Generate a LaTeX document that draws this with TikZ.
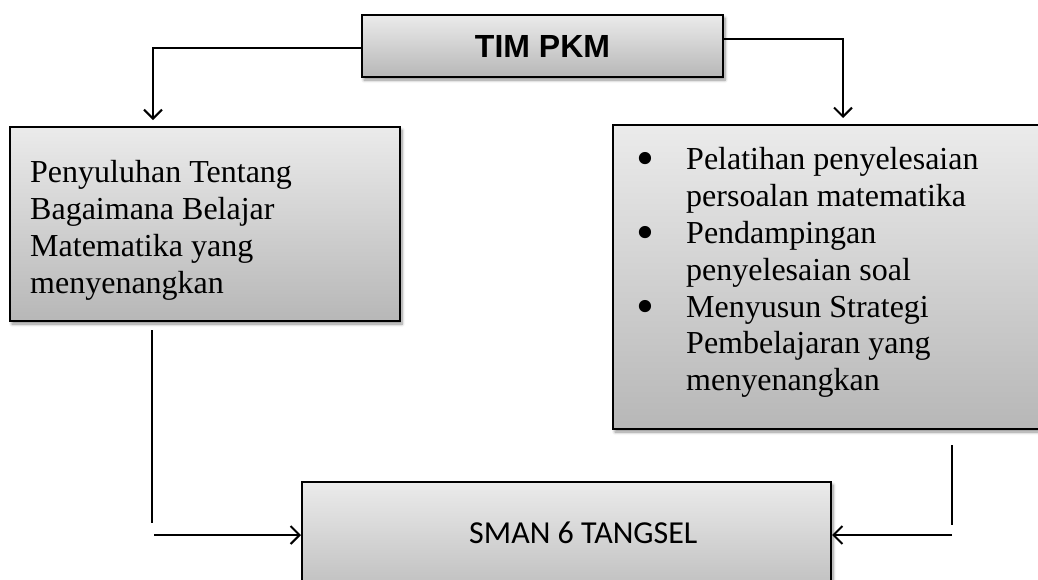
\documentclass[tikz,border=0pt]{standalone}
\usepackage{fontspec}
\setmainfont{Liberation Serif}
\newfontfamily\arialfam{Liberation Sans}
\newfontfamily\calibfam{Carlito}
\usetikzlibrary{arrows.meta,shadows.blur}
\definecolor{boxtop}{HTML}{EBEBEB}
\definecolor{boxbot}{HTML}{B7B7B7}
\newcommand\mybul{\makebox[46.5pt][l]{\hspace*{-3.5pt}\raisebox{-6pt}{\scalebox{1.6}{•}}}}
\newcommand\myind{\hspace*{46.5pt}}
\tikzset{
  box/.style={draw=black, line width=2pt, top color=boxtop, bottom color=boxbot,
    inner sep=0pt, blur shadow={shadow xshift=2pt, shadow yshift=-3pt, shadow blur steps=6, shadow blur radius=3pt, shadow opacity=45}},
  conn/.style={line width=2pt, draw=black},
  arr/.style={conn, -{Straight Barb[length=9pt,width=18pt,line width=2pt]}},
  serif32/.style={font=\fontsize{32}{36.9}\selectfont, inner sep=0pt, align=left},
}
\begin{document}
\begin{tikzpicture}[x=1pt,y=-1pt]
\useasboundingbox (0,0) rectangle (1038,579);
\clip (0,0) rectangle (1038,579);

% boxes
\node[box, minimum width=361pt, minimum height=62pt,
      font=\arialfam\bfseries\fontsize{32}{38}\selectfont] (tim) at (542.5,46) {TIM PKM};
\node[box, minimum width=390pt, minimum height=194pt] (lbox) at (205,224) {};
\node[box, minimum width=437pt, minimum height=304pt] (rbox) at (831.5,277) {};
\node[box, minimum width=529pt, minimum height=128pt] (sman) at (566.5,546) {};

% texts
\node[serif32, anchor=north west] (ltext) at (30,160)
  {Penyuluhan Tentang\\Bagaimana Belajar\\Matematika yang\\menyenangkan};
\node[serif32, anchor=north west] (rtext) at (639.5,147)
  {\mybul Pelatihan penyelesaian\\
   \myind persoalan matematika\\
   \mybul Pendampingan\\
   \myind penyelesaian soal\\
   \mybul Menyusun Strategi\\
   \myind Pembelajaran yang\\
   \myind menyenangkan};
\node[anchor=base west, inner sep=0pt, font=\calibfam\fontsize{32}{38}\selectfont]
  (stext) at (469,543) {SMAN 6 TANGSEL};

% connectors from TIM PKM
\coordinate (la) at (153,120);
\coordinate (ra) at (843,118);
\draw[arr] ([yshift=-2pt]tim.west) -| (la);
\draw[arr] ([yshift=7pt]tim.east) -| (ra);

% connectors to SMAN 6 TANGSEL
\coordinate (l1) at (152,330);
\coordinate (l2) at (152,523);
\coordinate (l3) at (154,535);
\coordinate (r1) at (952,445);
\coordinate (r2) at (952,525);
\coordinate (r3) at (952,535);
\draw[conn] (l1) -- (l2);
\draw[arr] (l3) -- (l3 -| sman.west);
\draw[conn] (r1) -- (r2);
\draw[arr] (r3) -- (r3 -| sman.east);
\end{tikzpicture}
\end{document}
